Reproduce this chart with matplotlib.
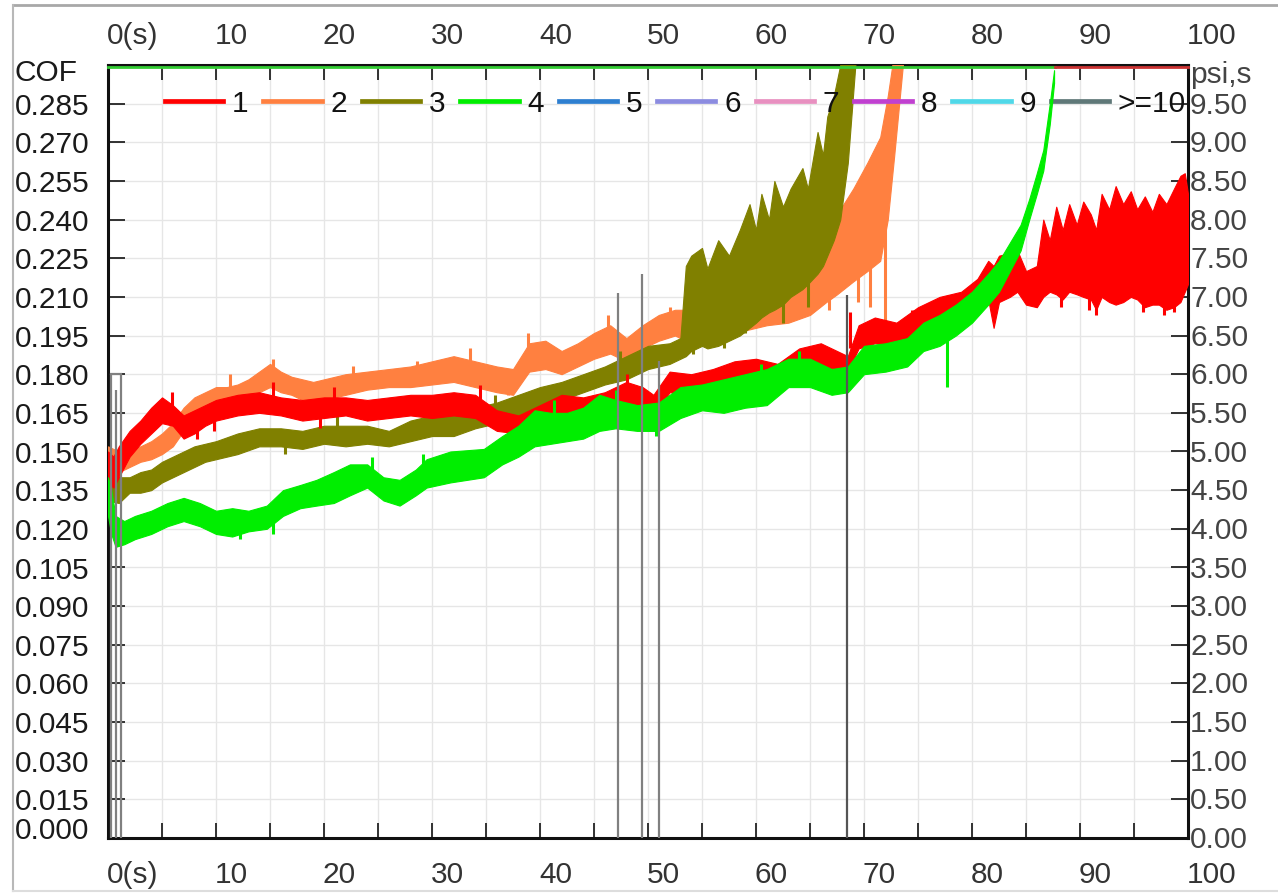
import matplotlib
matplotlib.use('Agg')
import matplotlib.pyplot as plt
from matplotlib.lines import Line2D
import matplotlib.transforms as mtransforms

plt.rcParams['font.family'] = ['Liberation Sans', 'DejaVu Sans']

# ---------------- data ----------------
# Series 1 (red)
t1 = [0, 0.5, 1, 2, 3, 4, 5, 6, 7, 8, 9, 10, 12, 14, 16, 18, 20, 22, 24, 26, 28, 30,
      32, 34, 36, 38, 40, 42, 44, 46, 48, 49.5, 50.5, 52, 54, 56, 58, 60, 62, 64, 66,
      67.5, 68.5, 69.5, 71, 73, 75, 77, 79, 80.5, 81.5, 82, 82.5, 83.5, 84.2, 85, 86,
      86.6, 87.2, 87.8, 88.4, 89, 89.7, 90.3, 91, 91.5, 92, 92.7, 93.3, 94, 94.7, 95.3,
      96, 96.7, 97.3, 98, 98.7, 99.3, 99.7, 100]
lo1 = [0.138, 0.136, 0.140, 0.148, 0.153, 0.157, 0.161, 0.160, 0.155, 0.157, 0.160, 0.162,
       0.164, 0.165, 0.164, 0.162, 0.163, 0.164, 0.162, 0.163, 0.164, 0.163, 0.164, 0.163,
       0.158, 0.157, 0.160, 0.163, 0.163, 0.165, 0.168, 0.165, 0.164, 0.173, 0.172, 0.174,
       0.176, 0.177, 0.175, 0.181, 0.183, 0.182, 0.181, 0.190, 0.192, 0.191, 0.196, 0.200,
       0.203, 0.206, 0.209, 0.198, 0.208, 0.210, 0.212, 0.207, 0.206,
       0.210, 0.212, 0.211, 0.209, 0.212, 0.211, 0.210, 0.209, 0.205, 0.210, 0.208, 0.207,
       0.208, 0.210, 0.209, 0.206, 0.207, 0.207, 0.205, 0.206, 0.208, 0.212, 0.215]
hi1 = [0.150, 0.148, 0.152, 0.158, 0.162, 0.167, 0.171, 0.168, 0.164, 0.166, 0.168, 0.170,
       0.172, 0.173, 0.171, 0.170, 0.171, 0.171, 0.170, 0.171, 0.172, 0.172, 0.173, 0.172,
       0.166, 0.164, 0.168, 0.172, 0.171, 0.173, 0.177, 0.175, 0.172, 0.181, 0.180, 0.182,
       0.185, 0.186, 0.184, 0.190, 0.192, 0.189, 0.187, 0.199, 0.202, 0.200, 0.206, 0.210,
       0.212, 0.217, 0.224, 0.222, 0.226, 0.227, 0.228, 0.220, 0.222,
       0.240, 0.232, 0.245, 0.236, 0.246, 0.238, 0.247, 0.242, 0.236, 0.250, 0.244, 0.253,
       0.246, 0.251, 0.244, 0.249, 0.243, 0.250, 0.246, 0.252, 0.257, 0.258, 0.250]
sp1_t = [5.9, 8.2, 9.8, 15.3, 19.6, 20.9, 34.4, 37.2, 44.4, 48.1, 50.0, 68.7, 74.4,
         91.5, 97.8, 98.7, 88.2, 90.8, 95.8]
sp1_from = [0.166, 0.161, 0.164, 0.169, 0.166, 0.167, 0.168, 0.161, 0.167, 0.172, 0.170,
            0.190, 0.196, 0.225, 0.228, 0.228, 0.225, 0.225, 0.225]
sp1_to = [0.173, 0.155, 0.158, 0.177, 0.159, 0.175, 0.176, 0.155, 0.160, 0.180, 0.164,
          0.204, 0.205, 0.203, 0.203, 0.204, 0.206, 0.205, 0.204]

# Series 2 (orange)
t2 = [0, 1, 2, 3, 4, 5, 6, 7, 8, 9, 10, 11, 12, 13, 14, 15, 16, 17, 18, 19, 20, 22, 24,
      26, 28, 30, 32, 34, 36, 37.5, 39, 40.5, 42, 43.5, 45, 46.5, 48, 49.5, 51, 52.5,
      53.5, 55, 57, 59, 61, 63, 65, 66.5, 67.5, 69, 70.3, 71.5, 72.2, 72.8, 73.6]
lo2 = [0.140, 0.142, 0.144, 0.146, 0.147, 0.149, 0.152, 0.158, 0.162, 0.165, 0.167, 0.167,
       0.168, 0.170, 0.173, 0.175, 0.173, 0.172, 0.170, 0.170, 0.170, 0.172, 0.174, 0.175,
       0.175, 0.176, 0.177, 0.175, 0.173, 0.172, 0.181, 0.182, 0.180, 0.183, 0.186, 0.188,
       0.185, 0.190, 0.193, 0.195, 0.193, 0.193, 0.195, 0.197, 0.199, 0.200, 0.203, 0.208,
       0.211, 0.216, 0.220, 0.224, 0.240, 0.265, 0.300]
hi2 = [0.152, 0.150, 0.151, 0.152, 0.154, 0.157, 0.161, 0.167, 0.171, 0.173, 0.175, 0.175,
       0.176, 0.178, 0.181, 0.184, 0.181, 0.179, 0.178, 0.177, 0.178, 0.180, 0.181, 0.182,
       0.183, 0.185, 0.187, 0.185, 0.183, 0.182, 0.192, 0.193, 0.189, 0.192, 0.196, 0.199,
       0.194, 0.199, 0.203, 0.205, 0.205, 0.207, 0.210, 0.214, 0.218, 0.220, 0.226, 0.234,
       0.242, 0.252, 0.262, 0.272, 0.288, 0.305, 0.310]
sp2_t = [11.3, 15.3, 22.7, 28.6, 33.5, 38.9, 37.0, 46.3, 52.0, 71.9, 70.6, 69.4, 66.8]
sp2_from = [0.172, 0.178, 0.176, 0.178, 0.182, 0.188, 0.178, 0.193, 0.200, 0.240, 0.235,
            0.230, 0.220]
sp2_to = [0.180, 0.186, 0.183, 0.185, 0.190, 0.196, 0.172, 0.203, 0.206, 0.194, 0.206,
          0.208, 0.205]

# Series 3 (olive)
t3 = [0, 1, 2, 3, 4, 5, 6, 7, 8, 9, 10, 12, 14, 16, 18, 20, 22, 24, 26, 28, 30, 32, 34,
      36, 38, 40, 42, 44, 46, 48, 50, 52, 53, 53.5, 54, 55, 55.5, 56.5, 57.5, 58.5, 59.4,
      60, 60.5, 61.2, 61.7, 62.5, 63.2, 64.3, 64.8, 65.7, 66.2, 66.6, 67.2, 67.8, 68.5,
      69.2]
lo3 = [0.131, 0.130, 0.134, 0.134, 0.135, 0.138, 0.140, 0.142, 0.144, 0.146, 0.147, 0.149,
       0.152, 0.152, 0.151, 0.153, 0.152, 0.153, 0.152, 0.154, 0.156, 0.156, 0.159, 0.161,
       0.164, 0.167, 0.170, 0.173, 0.176, 0.178, 0.182, 0.184, 0.186, 0.187, 0.189, 0.191,
       0.190, 0.191, 0.193, 0.195, 0.198, 0.200, 0.202, 0.204, 0.205, 0.207, 0.210, 0.213,
       0.215, 0.219, 0.222, 0.226, 0.232, 0.240, 0.262, 0.300]
hi3 = [0.140, 0.140, 0.140, 0.142, 0.143, 0.146, 0.148, 0.150, 0.152, 0.153, 0.154, 0.157,
       0.159, 0.159, 0.158, 0.160, 0.160, 0.160, 0.158, 0.162, 0.164, 0.165, 0.167, 0.169,
       0.172, 0.175, 0.177, 0.180, 0.183, 0.187, 0.191, 0.192, 0.194, 0.222, 0.226, 0.229,
       0.221, 0.232, 0.226, 0.236, 0.246, 0.236, 0.250, 0.240, 0.255, 0.245, 0.252, 0.260,
       0.252, 0.274, 0.265, 0.280, 0.288, 0.300, 0.310, 0.310]
sp3_t = [16.4, 21.2, 35.8, 47.4, 57.0, 59.0, 62.5, 64.8, 54.2]
sp3_from = [0.155, 0.157, 0.165, 0.180, 0.205, 0.210, 0.220, 0.228, 0.200]
sp3_to = [0.149, 0.164, 0.172, 0.189, 0.190, 0.196, 0.200, 0.206, 0.188]

# Series 4 (green)
t4 = [0, 0.3, 0.7, 1.5, 2.5, 4, 5.5, 7, 8.5, 10, 11.5, 13, 14.7, 16.2, 17.8, 19.3, 20.9,
      22.4, 24, 25.5, 27, 28.5, 29.5, 31.7, 34.8, 36.5, 38, 39.5, 41, 42.5, 44, 45.5, 47,
      49, 51, 53, 55, 57, 59, 61, 63, 65, 67, 68.5, 70, 72, 74, 75.5, 77, 78.5, 80, 81.5,
      82.5, 83.5, 84.5, 85.3, 86, 86.6, 87.2, 87.6]
lo4 = [0.125, 0.118, 0.113, 0.114, 0.116, 0.118, 0.121, 0.123, 0.121, 0.118, 0.117, 0.119,
       0.120, 0.125, 0.128, 0.129, 0.130, 0.133, 0.136, 0.131, 0.129, 0.133, 0.136, 0.138,
       0.140, 0.145, 0.148, 0.152, 0.153, 0.154, 0.155, 0.158, 0.159, 0.158, 0.158, 0.163,
       0.166, 0.165, 0.167, 0.168, 0.175, 0.175, 0.172, 0.173, 0.180, 0.181, 0.183, 0.189,
       0.191, 0.195, 0.200, 0.207, 0.212, 0.220, 0.228, 0.240, 0.250, 0.259, 0.277, 0.293]
hi4 = [0.140, 0.135, 0.125, 0.123, 0.125, 0.127, 0.130, 0.132, 0.130, 0.127, 0.128, 0.127,
       0.129, 0.135, 0.137, 0.139, 0.142, 0.145, 0.145, 0.140, 0.139, 0.143, 0.147, 0.150,
       0.151, 0.156, 0.160, 0.166, 0.165, 0.165, 0.167, 0.172, 0.170, 0.168, 0.169, 0.175,
       0.176, 0.178, 0.180, 0.182, 0.186, 0.186, 0.182, 0.183, 0.191, 0.192, 0.194, 0.200,
       0.203, 0.207, 0.212, 0.219, 0.224, 0.231, 0.238, 0.248, 0.258, 0.267, 0.285, 0.298]
sp4_t = [12.2, 15.3, 24.4, 29.2, 41.3, 47.0, 50.7, 77.7, 60.5, 64.0]
sp4_from = [0.122, 0.124, 0.141, 0.142, 0.160, 0.165, 0.163, 0.197, 0.174, 0.180]
sp4_to = [0.116, 0.118, 0.148, 0.149, 0.170, 0.174, 0.156, 0.175, 0.184, 0.189]

# grey ">=10" pulses
grey_t = [0.3, 0.7, 1.2, 47.2, 49.4, 51.0, 68.4]
grey_top = [0.180, 0.174, 0.180, 0.2115, 0.219, 0.185, 0.2107]

series_labels = ['1', '2', '3', '4', '5', '6', '7', '8', '9', '>=10']
series_colors = ['#ff0000', '#ff8040', '#808000', '#00ee00', '#2e7fd0', '#8c8ce0',
                 '#e890c0', '#c040d0', '#50d8e8', '#5f7878']

x_ticklabels = ['0(s)', '10', '20', '30', '40', '50', '60', '70', '80', '90', '100']
x_ticklabel_pos = [0, 10, 20, 30, 40, 50, 60, 70, 80, 90, 100]
cof_ticks = [i * 0.015 for i in range(21)]
psi_labels = ['%.2f' % (i * 0.5) for i in range(20)]

# ---------------- figure ----------------
W, H = 1278, 893
FS = 21.5
fig = plt.figure(figsize=(W / 100, H / 100), dpi=100)
fig.patch.set_facecolor('white')
L, R, T, B = 108, 1188, 65, 838
ax = fig.add_axes([L / W, 1 - B / H, (R - L) / W, (B - T) / H])
ax.set_xlim(0, 100)
ax.set_ylim(0, 0.3)

ax.set_xticks([i * 5 for i in range(21)])
ax.set_yticks(cof_ticks)
ax.tick_params(axis='x', which='both', direction='in', top=True, bottom=True,
               length=11, width=1.3, labelbottom=False, labeltop=False, color='#222')
ax.tick_params(axis='y', which='both', direction='in', left=True, right=True,
               length=12, width=1.3, labelleft=False, labelright=False, color='#222')
ax.grid(True, color='#e6e6e6', lw=1.0)
ax.set_axisbelow(True)
for s in ax.spines.values():
    s.set_linewidth(2.2)
    s.set_color('#111')

bands = [(t1, lo1, hi1, sp1_t, sp1_from, sp1_to),
         (t2, lo2, hi2, sp2_t, sp2_from, sp2_to),
         (t3, lo3, hi3, sp3_t, sp3_from, sp3_to),
         (t4, lo4, hi4, sp4_t, sp4_from, sp4_to)]
order = [1, 2, 0, 3]           # orange, olive, red, green
for z, k in enumerate(order):
    t, lo, hi, st, sf, stt = bands[k]
    c = series_colors[k]
    ax.fill_between(t, lo, hi, color=c, lw=0.8, edgecolor=c, zorder=3 + z)
    ax.vlines(st, sf, stt, colors=c, lw=2.2, zorder=3 + z)

# grey pulses
ax.vlines(grey_t, 0, grey_top, colors=['#808080'] * 6 + ['#555555'], lw=1.6, zorder=8)
ax.plot([grey_t[0], grey_t[2]], [grey_top[0], grey_top[2]], color='#808080', lw=1.6, zorder=8)

# coloured top edge
ax.plot([0, 87.7], [0.2993, 0.2993], color='#33cc33', lw=2.0, clip_on=False, zorder=9)
ax.plot([87.7, 100], [0.2993, 0.2993], color='#cc3333', lw=2.0, clip_on=False, zorder=9)

# legend
handles = [Line2D([], [], color=c, lw=3.4) for c in series_colors]
leg = ax.legend(handles, series_labels, ncol=10, frameon=False, loc='center left',
                bbox_to_anchor=(0.0528, 0.95), fontsize=FS, handlelength=1.95,
                handletextpad=0.3, columnspacing=0.49, borderaxespad=0, borderpad=0)
for txt in leg.get_texts():
    txt.set_color('#111')

# x labels (top and bottom), left-aligned on their positions
tx = mtransforms.blended_transform_factory(ax.transData, fig.transFigure)
for p, lab in zip(x_ticklabel_pos, x_ticklabels):
    ax.text(p - 0.1, 1 - 36 / H, lab, transform=tx, ha='left', va='center',
            fontsize=FS, color='#333')
    ax.text(p - 0.1, 1 - 875 / H, lab, transform=tx, ha='left', va='center',
            fontsize=FS, color='#333')

# left labels
ty = mtransforms.blended_transform_factory(fig.transFigure, ax.transData)
for i, v in enumerate(cof_ticks):
    if i == 20:
        lab = 'COF'
        yv = (B - 73) / (B - T) * 0.3
    elif i == 0:
        lab = '0.000'
        yv = (B - 831) / (B - T) * 0.3
    else:
        lab = '%.3f' % v
        yv = v - 0.0012
    ax.text(15 / W, yv, lab, transform=ty, ha='left', va='center', fontsize=FS,
            color='#1a1a1a')

# right labels
for i, v in enumerate(cof_ticks):
    if i == 20:
        lab = 'psi,s'
        yv = (B - 75) / (B - T) * 0.3
    else:
        lab = psi_labels[i]
        yv = v - 0.0008
    ax.text(1190 / W, yv, lab, transform=ty, ha='left', va='center', fontsize=FS,
            color='#444')

# window frame lines
fig.add_artist(Line2D([13 / W, 1], [1 - 5 / H, 1 - 5 / H], color='#a8a8a8', lw=2,
                      transform=fig.transFigure))
fig.add_artist(Line2D([13 / W, 13 / W], [1 - 5 / H, 1 - 891 / H], color='#b8b8b8', lw=1.5,
                      transform=fig.transFigure))
fig.add_artist(Line2D([13 / W, 1], [1 - 891 / H, 1 - 891 / H], color='#dddddd', lw=1.5,
                      transform=fig.transFigure))

fig.savefig('out.png', dpi=100, facecolor='white')
